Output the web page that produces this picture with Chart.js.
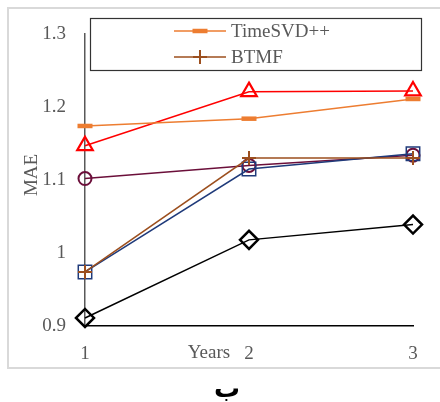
<!DOCTYPE html>
<html>
<head>
<meta charset="utf-8">
<script src="https://cdn.jsdelivr.net/npm/chart.js@4/dist/chart.umd.min.js"></script>
<style>
  html, body { margin: 0; padding: 0; background: #fff; }
  #wrap { position: relative; width: 440px; height: 402px; }
</style>
</head>
<body>
<div id="wrap"><canvas id="c" width="440" height="402"></canvas></div>
<script>
const years = [1, 2, 3];
const yTicks = [0.9, 1.0, 1.1, 1.2, 1.3];

const timeSVD = [1.174, 1.184, 1.211];
const redTri = [1.147, 1.221, 1.222];
const purpleCircle = [1.102, 1.120, 1.134];
const btmf = [0.974, 1.130, 1.130];
const blueSquare = [0.974, 1.115, 1.136];
const blackDiamond = [0.911, 1.018, 1.039];

const serif = '"Liberation Serif", "Times New Roman", serif';
const grey = '#595959';

const pts = (arr) => arr.map((v, i) => ({ x: years[i], y: v }));
const ds = (label, data, color, style, radius, bw, lw = 1.5) => ({
  label, data: pts(data), borderColor: color, backgroundColor: 'rgba(0,0,0,0)',
  pointStyle: style, pointRadius: radius, pointBorderWidth: bw, pointBorderColor: color,
  pointBackgroundColor: 'rgba(0,0,0,0)', borderWidth: lw, tension: 0, showLine: true,
  clip: false
});

const datasets = [
  ds('D', blackDiamond, '#000000', 'rectRot', 9, 2.5),
  ds('TimeSVD++', timeSVD, '#ED7D31', 'line', 7.5, 4.5),
  ds('R', redTri, '#FF0000', 'triangle', 9, 2.2),
  ds('BTMF', btmf, '#9C4F1E', 'cross', 7, 2),
  ds('S', blueSquare, '#1F3A7A', 'rect', 9.5, 1.5),
  ds('C', purpleCircle, '#6B0F3A', 'circle', 6.5, 2),
];

const decor = {
  id: 'decor',
  beforeDraw(chart) {
    const c = chart.ctx;
    c.save();
    c.fillStyle = '#fff';
    c.fillRect(0, 0, 440, 402);
    c.strokeStyle = '#D9D9D9';
    c.lineWidth = 2;
    c.beginPath();
    c.moveTo(441, 8); c.lineTo(8, 8); c.lineTo(8, 368); c.lineTo(441, 368);
    c.stroke();
    c.restore();
  },
  afterDraw(chart) {
    const c = chart.ctx;
    c.save();
    // axis titles
    c.fillStyle = grey;
    c.font = '19px ' + serif;
    c.textAlign = 'center';
    c.textBaseline = 'middle';
    c.fillText('Years', 209, 353);
    c.translate(32, 175);
    c.rotate(-Math.PI / 2);
    c.fillText('MAE', 0, 0);
    c.restore();

    // legend box
    c.save();
    c.strokeStyle = '#333';
    c.lineWidth = 1.2;
    c.strokeRect(90.5, 18.5, 331, 52);
    const items = [
      { ds: chart.data.datasets[1], y: 31 },
      { ds: chart.data.datasets[3], y: 57 }
    ];
    items.forEach(it => {
      c.strokeStyle = it.ds.borderColor;
      c.fillStyle = 'rgba(0,0,0,0)';
      c.lineWidth = 1.5;
      c.beginPath(); c.moveTo(174, it.y); c.lineTo(226, it.y); c.stroke();
      c.lineWidth = it.ds.pointBorderWidth;
      Chart.helpers.drawPoint(c, { pointStyle: it.ds.pointStyle, rotation: 0, borderWidth: it.ds.pointBorderWidth, radius: it.ds.pointRadius }, 200, it.y);
      c.fillStyle = grey;
      c.font = '19px ' + serif;
      c.textAlign = 'left';
      c.textBaseline = 'middle';
      c.fillText(it.ds.label, 231, it.y + 1);
    });
    c.restore();

    // caption letter
    c.save();
    c.fillStyle = '#000';
    c.font = 'bold 26px "DejaVu Sans", sans-serif';
    c.textAlign = 'center';
    c.textBaseline = 'alphabetic';
    c.fillText('ب', 227, 397);
    c.restore();
  }
};

new Chart(document.getElementById('c'), {
  type: 'scatter',
  data: { datasets },
  options: {
    responsive: false,
    animation: false,
    devicePixelRatio: 1,
    layout: { padding: { top: 34, right: 27, left: 0, bottom: 0 } },
    plugins: { legend: { display: false }, tooltip: { enabled: false } },
    scales: {
      x: {
        type: 'linear', min: 1, max: 3,
        afterFit: s => { s.height = 76; },
        afterBuildTicks: s => { s.ticks = years.map(v => ({ value: v })); },
        grid: { display: false, drawTicks: false },
        border: { color: '#000', width: 1.5 },
        ticks: { color: grey, font: { family: serif, size: 19 }, padding: 17 }
      },
      y: {
        type: 'linear', min: 0.9, max: 1.3,
        afterFit: s => { s.width = 85; },
        afterBuildTicks: s => { s.ticks = yTicks.map(v => ({ value: v })); },
        grid: { display: false, drawTicks: false },
        border: { color: '#595959', width: 1.5 },
        ticks: {
          color: grey, font: { family: serif, size: 19 }, padding: 19,
          callback: v => String(Math.round(v * 10) / 10)
        }
      }
    }
  },
  plugins: [decor]
});
</script>
</body>
</html>
